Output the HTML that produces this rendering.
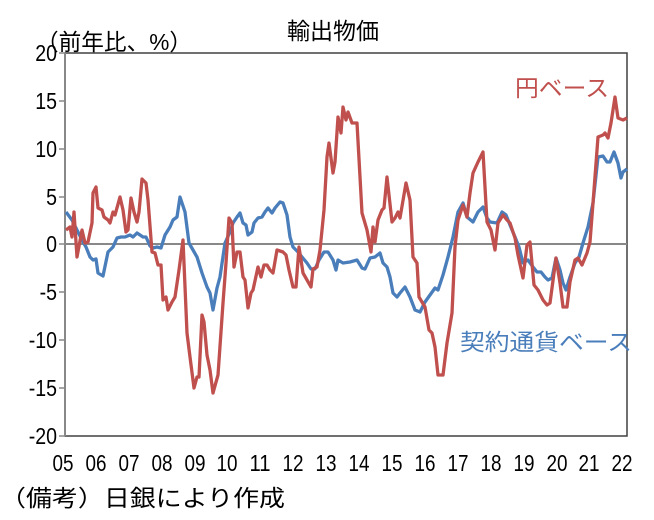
<!DOCTYPE html>
<html><head><meta charset="utf-8"><style>
html,body{margin:0;padding:0;background:#fff;}
svg{display:block;}
text{font-family:"Liberation Sans","Noto Sans CJK JP",sans-serif;}
</style></head><body>
<svg width="654" height="520" viewBox="0 0 654 520" xmlns="http://www.w3.org/2000/svg">
<rect x="0" y="0" width="654" height="520" fill="#fff"/>
<text x="333" y="39" font-size="23" text-anchor="middle" fill="#000">輸出物価</text>
<text x="36" y="50" font-size="23" fill="#000" textLength="156" lengthAdjust="spacingAndGlyphs">（前年比、%）</text>
<rect x="65" y="53" width="562" height="383" fill="none" stroke="#404040" stroke-width="1.5"/>
<line x1="65" y1="53" x2="65" y2="436" stroke="#888" stroke-width="2"/>
<line x1="65" y1="244" x2="627" y2="244" stroke="#888" stroke-width="2"/>
<g stroke="#888" stroke-width="1.5">
<line x1="59" y1="53" x2="65" y2="53"/><line x1="59" y1="101" x2="65" y2="101"/><line x1="59" y1="149" x2="65" y2="149"/><line x1="59" y1="197" x2="65" y2="197"/><line x1="59" y1="244" x2="65" y2="244"/><line x1="59" y1="292" x2="65" y2="292"/><line x1="59" y1="340" x2="65" y2="340"/><line x1="59" y1="388" x2="65" y2="388"/><line x1="59" y1="436" x2="65" y2="436"/>
</g>
<g font-size="23" text-anchor="end" fill="#000" transform="translate(57,0) scale(0.85,1) translate(-57,0)">
<text x="57" y="61">20</text><text x="57" y="109">15</text><text x="57" y="157">10</text><text x="57" y="205">5</text><text x="57" y="252">0</text><text x="57" y="300">-5</text><text x="57" y="348">-10</text><text x="57" y="396">-15</text><text x="57" y="444">-20</text>
</g>
<g font-size="23" text-anchor="middle" fill="#000">
<text x="63" y="471" textLength="21" lengthAdjust="spacingAndGlyphs">05</text><text x="96" y="471" textLength="21" lengthAdjust="spacingAndGlyphs">06</text><text x="129" y="471" textLength="21" lengthAdjust="spacingAndGlyphs">07</text><text x="162" y="471" textLength="21" lengthAdjust="spacingAndGlyphs">08</text><text x="195" y="471" textLength="21" lengthAdjust="spacingAndGlyphs">09</text><text x="227" y="471" textLength="21" lengthAdjust="spacingAndGlyphs">10</text><text x="260" y="471" textLength="21" lengthAdjust="spacingAndGlyphs">11</text><text x="293" y="471" textLength="21" lengthAdjust="spacingAndGlyphs">12</text><text x="326" y="471" textLength="21" lengthAdjust="spacingAndGlyphs">13</text><text x="359" y="471" textLength="21" lengthAdjust="spacingAndGlyphs">14</text><text x="392" y="471" textLength="21" lengthAdjust="spacingAndGlyphs">15</text><text x="425" y="471" textLength="21" lengthAdjust="spacingAndGlyphs">16</text><text x="458" y="471" textLength="21" lengthAdjust="spacingAndGlyphs">17</text><text x="491" y="471" textLength="21" lengthAdjust="spacingAndGlyphs">18</text><text x="524" y="471" textLength="21" lengthAdjust="spacingAndGlyphs">19</text><text x="557" y="471" textLength="21" lengthAdjust="spacingAndGlyphs">20</text><text x="589" y="471" textLength="21" lengthAdjust="spacingAndGlyphs">21</text><text x="622" y="471" textLength="21" lengthAdjust="spacingAndGlyphs">22</text>
</g>
<text x="0" y="506" font-size="23" fill="#000" textLength="285" lengthAdjust="spacingAndGlyphs">（備考）日銀により作成</text>
<polyline fill="none" stroke="#4a7ebb" stroke-width="3.3" stroke-linejoin="round" points="66,212 72,220 77,230 82,240 86,247 90,257 93,260 96,259 98,273 103,276 108,252 113,247 117,238 121,237 125,237 130,235 133,237 137,233 140,235 143,237 146,237 150,246 153,248 157,247 161,248 165,235 170,227 173,220 177,217 180,197 185,212 189,243 193,250 197,257 202,273 207,287 210,293 213,310 217,288 220,277 225,243 230,232 233,223 237,217 240,213 243,223 246,225 248,235 252,232 254,223 258,218 262,217 265,212 268,208 272,213 275,208 280,202 283,203 287,215 290,237 293,247 298,252 302,257 307,263 311,269 315,269 319,260 324,252 328,252 333,260 336,270 338,260 343,263 350,262 357,260 362,268 365,269 370,258 375,257 380,253 383,263 387,267 390,277 393,293 397,297 400,293 405,287 410,297 415,310 420,312 425,302 430,295 435,288 438,290 443,275 448,257 453,237 458,212 463,203 467,217 473,222 478,212 483,207 487,218 490,222 497,223 502,212 506,215 510,225 515,237 519,247 523,263 528,260 533,267 537,272 541,272 545,277 548,280 552,278 556,258 560,270 563,283 566,290 570,277 575,263 579,257 583,243 588,227 593,203 598,157 603,156 607,162 610,162 614,152 618,163 621,178 623,172 627,169"/>
<polyline fill="none" stroke="#c0504d" stroke-width="3.3" stroke-linejoin="round" points="66,230 70,227 72,237 74,212 77,257 82,230 85,243 88,242 92,223 93,193 96,187 98,208 102,210 104,217 108,220 110,223 113,212 115,215 120,197 123,210 126,232 128,230 131,198 134,212 137,222 139,212 142,179 146,183 148,200 152,252 155,253 158,265 161,265 163,300 166,297 168,310 172,302 175,297 179,270 183,240 187,333 190,357 194,388 197,377 199,377 202,315 204,322 207,355 210,370 213,393 218,375 223,303 226,263 229,218 232,223 234,267 237,252 240,252 243,277 245,280 248,308 251,293 253,290 258,267 261,277 264,265 267,265 270,270 273,273 277,250 283,252 286,255 289,270 293,287 296,287 299,247 303,273 307,280 311,287 313,269 317,267 320,250 324,210 327,157 329,143 333,173 335,162 338,117 341,133 343,107 346,120 348,112 352,123 357,123 362,213 367,230 371,252 373,227 375,242 378,220 382,210 384,208 387,177 392,222 395,218 398,212 400,218 406,183 410,200 413,257 417,263 419,297 425,307 429,330 432,333 435,347 438,375 443,375 447,343 452,313 455,247 458,220 463,205 467,217 470,193 473,173 478,162 483,152 487,222 491,230 495,250 498,223 503,215 507,220 510,223 515,238 518,255 523,278 527,245 530,242 534,285 538,290 543,300 547,305 550,303 556,258 560,283 563,307 567,307 570,282 575,260 578,258 582,265 587,253 590,242 594,190 598,137 603,135 605,133 608,138 611,123 615,97 618,118 623,120 627,118"/>
<text x="515" y="96" font-size="23" fill="#c0504d" textLength="94" lengthAdjust="spacingAndGlyphs">円ベース</text>
<text x="460" y="350" font-size="23" fill="#4a7ebb" textLength="172" lengthAdjust="spacingAndGlyphs">契約通貨ベース</text>
</svg>
</body></html>
